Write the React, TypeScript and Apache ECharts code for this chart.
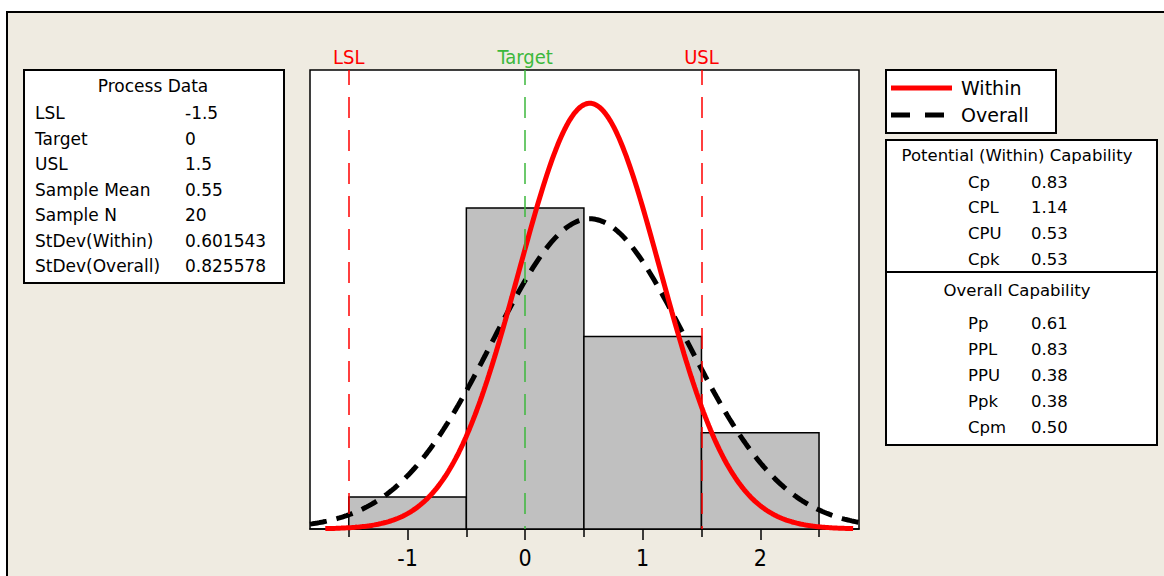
import React, { useEffect, useRef } from "react";
import * as echarts from "echarts";

// ---- data ----
const binStarts = [-1.5, -0.5, 0.5, 1.5];
const binEnds = [-0.5, 0.5, 1.5, 2.5];
const binCounts = [1, 10, 6, 3];
const specNames = ["LSL", "Target", "USL"];
const specValues = [-1.5, 0, 1.5];
const sampleMean = 0.55;
const sampleN = 20;
const stdevWithin = 0.601543;
const stdevOverall = 0.825578;
const xTickValues = [-1, 0, 1, 2];
const xMinorTickValues = [-1.5, -0.5, 0.5, 1.5, 2.5];
const legendNames = ["Within", "Overall"];
const processLabels = ["LSL", "Target", "USL", "Sample Mean", "Sample N", "StDev(Within)", "StDev(Overall)"];
const processValues = ["-1.5", "0", "1.5", "0.55", "20", "0.601543", "0.825578"];
const potentialLabels = ["Cp", "CPL", "CPU", "Cpk"];
const potentialValues = ["0.83", "1.14", "0.53", "0.53"];
const overallLabels = ["Pp", "PPL", "PPU", "Ppk", "Cpm"];
const overallValues = ["0.61", "0.83", "0.38", "0.38", "0.50"];

const X_MIN = -1.83;
const X_MAX = 2.84;
const Y_MAX = 14.3;
const withinRange = [-1.7, 2.79];

const FONT = '"DejaVu Sans", "Liberation Sans", sans-serif';
const FONT_C = '"DejaVu Sans Condensed", "DejaVu Sans", sans-serif';

function normalCurve(mean: number, sd: number, from: number, to: number) {
  const binWidth = binEnds[0] - binStarts[0];
  const pts: number[][] = [];
  const steps = 300;
  for (let i = 0; i <= steps; i++) {
    const x = from + ((to - from) * i) / steps;
    const z = (x - mean) / sd;
    const y = (sampleN * binWidth * Math.exp(-0.5 * z * z)) / (sd * Math.sqrt(2 * Math.PI));
    pts.push([x, y]);
  }
  return pts;
}

export default function App() {
  const ref = useRef<HTMLDivElement>(null);
  useEffect(() => {
    if (!ref.current) return;
    const chart = echarts.init(ref.current, null, { renderer: "svg" });

    const histData = binStarts.map((s, i) => [s, binEnds[i], binCounts[i]]);
    const withinData = normalCurve(sampleMean, stdevWithin, withinRange[0], withinRange[1]);
    const overallData = normalCurve(sampleMean, stdevOverall, X_MIN, X_MAX);

    const specColors = ["#FF0000", "#3CB83C", "#FF0000"];

    const txt = (x: number, y: number, text: string, size: number, align = "left") => ({
      type: "text",
      z: 11,
      x,
      y,
      style: { text, font: `${size}px ${FONT}`, fill: "#000", align, verticalAlign: "middle" },
    });

    const graphics: any[] = [];
    // outer panel
    graphics.push({
      type: "rect",
      z: -100,
      shape: { x: 7, y: 12, width: 1200, height: 600 },
      style: { fill: "#EFEBE1", stroke: "#000", lineWidth: 2 },
    });
    // process data box
    graphics.push({
      type: "rect",
      z: 10,
      shape: { x: 24, y: 70, width: 260, height: 213 },
      style: { fill: "#fff", stroke: "#000", lineWidth: 2 },
    });
    graphics.push(txt(153, 86, "Process Data", 17, "center"));
    processLabels.forEach((l, i) => {
      const y = 113 + i * 25.5;
      graphics.push(txt(35, y, l, 17));
      graphics.push(txt(185, y, processValues[i], 17));
    });
    // legend box
    graphics.push({
      type: "rect",
      z: 10,
      shape: { x: 886, y: 70, width: 170, height: 63 },
      style: { fill: "#fff", stroke: "#000", lineWidth: 2 },
    });
    graphics.push({
      type: "line",
      z: 11,
      shape: { x1: 891, y1: 88, x2: 952, y2: 88 },
      style: { stroke: "#FF0000", lineWidth: 5 },
    });
    graphics.push({
      type: "line",
      z: 11,
      shape: { x1: 891, y1: 115, x2: 952, y2: 115 },
      style: { stroke: "#000", lineWidth: 5, lineDash: [19, 15] },
    });
    graphics.push(txt(961, 88, legendNames[0], 19));
    graphics.push(txt(961, 115, legendNames[1], 19));
    // capability box
    graphics.push({
      type: "rect",
      z: 10,
      shape: { x: 886, y: 140, width: 271, height: 305 },
      style: { fill: "#fff", stroke: "#000", lineWidth: 2 },
    });
    graphics.push({
      type: "line",
      z: 11,
      shape: { x1: 886, y1: 272, x2: 1157, y2: 272 },
      style: { stroke: "#000", lineWidth: 2 },
    });
    graphics.push(txt(1017, 155, "Potential (Within) Capability", 16.5, "center"));
    potentialLabels.forEach((l, i) => {
      const y = 182 + i * 25.7;
      graphics.push(txt(968, y, l, 16.5));
      graphics.push(txt(1031, y, potentialValues[i], 16.5));
    });
    graphics.push(txt(1017, 290, "Overall Capability", 16.5, "center"));
    overallLabels.forEach((l, i) => {
      const y = 323 + i * 26;
      graphics.push(txt(968, y, l, 16.5));
      graphics.push(txt(1031, y, overallValues[i], 16.5));
    });

    const option: any = {
      animation: false,
      backgroundColor: "#ffffff",
      textStyle: { fontFamily: FONT },
      grid: {
        left: 310,
        top: 70,
        width: 549,
        height: 459,
        show: true,
        backgroundColor: "#ffffff",
        borderColor: "#000",
        borderWidth: 1.5,
        containLabel: false,
      },
      xAxis: [
        {
          type: "value",
          min: X_MIN,
          max: X_MAX,
          position: "bottom",
          axisLine: { show: true, lineStyle: { color: "#000", width: 1.5 } },
          axisTick: { show: true, customValues: xTickValues, length: 11, lineStyle: { color: "#000", width: 1.5 } },
          axisLabel: { show: true, customValues: xTickValues, fontSize: 23, color: "#000", margin: 17, fontFamily: FONT_C },
          splitLine: { show: false },
        },
        {
          type: "value",
          min: X_MIN,
          max: X_MAX,
          position: "bottom",
          axisLine: { show: false },
          axisTick: { show: true, customValues: xMinorTickValues, length: 8, lineStyle: { color: "#000", width: 1.5 } },
          axisLabel: { show: false },
          splitLine: { show: false },
        },
      ],
      yAxis: {
        type: "value",
        min: 0,
        max: Y_MAX,
        show: false,
        splitLine: { show: false },
      },
      graphic: graphics,
      series: [
        {
          type: "line",
          name: "spec",
          xAxisIndex: 0,
          data: [],
          z: 1,
          silent: true,
          markLine: {
            symbol: "none",
            silent: true,
            data: specValues.map((v, i) => ({
              xAxis: v,
              lineStyle: { color: specColors[i], width: 1.5, type: [21, 12], dashOffset: 18 },
              label: {
                show: true,
                position: "end",
                formatter: specNames[i],
                color: specColors[i],
                fontSize: 20,
                fontFamily: FONT_C,
                distance: 3,
              },
            })),
          },
        },
        {
          type: "custom",
          name: "Histogram",
          xAxisIndex: 0,
          z: 2,
          data: histData,
          encode: { x: [0, 1], y: 2 },
          renderItem: (params: any, api: any) => {
            const p0 = api.coord([api.value(0), api.value(2)]);
            const p1 = api.coord([api.value(1), 0]);
            return {
              type: "rect",
              shape: { x: p0[0], y: p0[1], width: p1[0] - p0[0], height: p1[1] - p0[1] },
              style: { fill: "#C0C0C0", stroke: "#000", lineWidth: 1.5 },
            };
          },
        },
        {
          type: "line",
          name: legendNames[1],
          xAxisIndex: 0,
          z: 3,
          data: overallData,
          showSymbol: false,
          symbol: "none",
          clip: true,
          lineStyle: { color: "#000", width: 5, type: [17, 10], cap: "butt" },
        },
        {
          type: "line",
          name: legendNames[0],
          xAxisIndex: 0,
          z: 4,
          data: withinData,
          showSymbol: false,
          symbol: "none",
          clip: true,
          lineStyle: { color: "#FF0000", width: 5 },
        },
      ],
    };
    chart.setOption(option);
    return () => chart.dispose();
  }, []);
  return <div ref={ref} style={{ position: "fixed", left: 0, top: 0, width: 1164, height: 576 }} />;
}
